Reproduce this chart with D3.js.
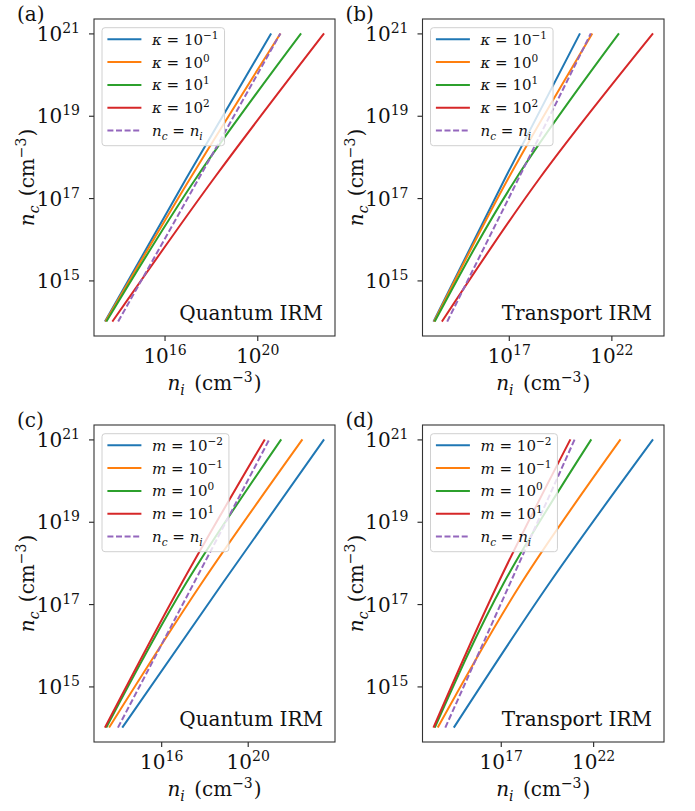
<!DOCTYPE html>
<html><head><meta charset="utf-8">
<script src="https://cdn.jsdelivr.net/npm/d3@7"></script>
<style>
body{margin:0;background:#fff;}
svg, svg text, svg tspan{font-family:"DejaVu Serif","Liberation Serif",serif !important;}
svg text{fill:#111;}
</style>
</head><body>
<svg id="chart" width="695" height="811" font-family="DejaVu Serif, Liberation Serif, serif"></svg>
<script>
// ---- data (log10 values) ----
const ncExp = [14, 17.5, 21];                 // log10 n_c at which n_i was read
const identityExp = [14, 21];                 // n_c = n_i line
const kappaExpLabels = ["\u22121", "0", "1", "2"];
const massExpLabels = ["\u22122", "\u22121", "0", "1"];
const yTickExps = [15, 17, 19, 21];
const xTickExpsQuantum = [16, 20];
const xTickExpsTransport = [17, 22];
// log10 n_i for each series at ncExp
const quantumKappaNi = [[13.43, 16.96, 20.60], [13.45, 17.13, 21.00], [13.49, 17.38, 21.89], [13.75, 18.16, 22.88]];
const transportKappaNi = [[13.33, 16.84, 20.47], [13.36, 17.00, 21.07], [13.39, 17.39, 22.37], [13.74, 18.53, 24.03]];
const quantumMassNi = [[14.20, 18.83, 23.53], [13.59, 17.86, 22.53], [13.46, 17.14, 21.55], [13.40, 16.94, 20.79]];
const transportMassNi = [[14.46, 19.62, 25.24], [13.59, 18.10, 23.48], [13.43, 17.15, 21.90], [13.36, 16.85, 20.77]];
const seriesColors = ["#1f77b4", "#ff7f0e", "#2ca02c", "#d62728"];
const identityColor = "#9467bd";

const svg = d3.select("#chart");
const FONT = "DejaVu Serif, Liberation Serif, serif";

function mathText(sel, segs, size) {
  let cur = 0;
  sel.attr("font-family", FONT);
  segs.forEach(s => {
    const p = s.p || "b";
    const target = p === "sup" ? -0.4 * size : p === "sub" ? 0.25 * size : 0;
    const ts = sel.append("tspan").attr("dy", target - cur).text(s.t);
    if (s.dx) ts.attr("dx", s.dx);
    cur = target;
    if (p !== "b") ts.attr("font-size", size * 0.7);
    if (s.i) ts.attr("font-style", "italic");
  });
}

const panels = [
  {tag: "(a)", left: 94, top: 19, w: 241, h: 317, xt: xTickExpsQuantum, ni: quantumKappaNi, sym: "\u03ba", labs: kappaExpLabels, name: "Quantum IRM"},
  {tag: "(b)", left: 422.5, top: 19, w: 241.5, h: 317, xt: xTickExpsTransport, ni: transportKappaNi, sym: "\u03ba", labs: kappaExpLabels, name: "Transport IRM"},
  {tag: "(c)", left: 94, top: 425, w: 241, h: 317, xt: xTickExpsQuantum, ni: quantumMassNi, sym: "m", labs: massExpLabels, name: "Quantum IRM"},
  {tag: "(d)", left: 422.5, top: 425, w: 241.5, h: 317, xt: xTickExpsTransport, ni: transportMassNi, sym: "m", labs: massExpLabels, name: "Transport IRM"}
];

const FS = 20, LFS = 15;

panels.forEach(P => {
  const g = svg.append("g").attr("transform", `translate(${P.left},${P.top})`);
  const allX = P.ni.flat().concat(identityExp);
  const xlo = d3.min(allX), xhi = d3.max(allX), xm = 0.05 * (xhi - xlo);
  const ylo = d3.min(ncExp), yhi = d3.max(ncExp), ym = 0.05 * (yhi - ylo);
  const x = d3.scaleLog().domain([10 ** (xlo - xm), 10 ** (xhi + xm)]).range([0, P.w]);
  const y = d3.scaleLog().domain([10 ** (ylo - ym), 10 ** (yhi + ym)]).range([P.h, 0]);

  // axes
  const ya = g.append("g").call(d3.axisLeft(y).tickValues(yTickExps.map(e => 10 ** e)).tickSize(5).tickPadding(9).tickFormat(""));
  ya.select(".domain").remove();
  ya.selectAll(".tick line").attr("stroke", "#222").attr("stroke-width", 1.1);
  ya.selectAll(".tick text").each(function(d) {
    const t = d3.select(this).attr("dy", null).attr("y", 7).attr("font-size", FS).attr("fill", "#111");
    mathText(t, [{t: "10"}, {t: String(Math.round(Math.log10(d))), p: "sup"}], FS);
  });
  const xa = g.append("g").attr("transform", `translate(0,${P.h})`)
    .call(d3.axisBottom(x).tickValues(P.xt.map(e => 10 ** e)).tickSize(5).tickFormat(""));
  xa.select(".domain").remove();
  xa.selectAll(".tick line").attr("stroke", "#222").attr("stroke-width", 1.1);
  xa.selectAll(".tick text").each(function(d) {
    const t = d3.select(this).attr("dy", null).attr("y", 27).attr("font-size", FS).attr("fill", "#111").attr("text-anchor", "middle");
    mathText(t, [{t: "10"}, {t: String(Math.round(Math.log10(d))), p: "sup"}], FS);
  });

  // lines
  const line = d3.line().x(d => x(10 ** d[0])).y(d => y(10 ** d[1])).curve(d3.curveNatural);
  P.ni.forEach((arr, i) => {
    g.append("path").datum(arr.map((v, k) => [v, ncExp[k]]))
      .attr("d", line).attr("fill", "none").attr("stroke", seriesColors[i]).attr("stroke-width", 2);
  });
  g.append("path").datum(identityExp.map(v => [v, v]))
    .attr("d", line).attr("fill", "none").attr("stroke", identityColor).attr("stroke-width", 2)
    .attr("stroke-dasharray", "6,2.6");

  // spines
  g.append("rect").attr("width", P.w).attr("height", P.h).attr("fill", "none").attr("stroke", "#333").attr("stroke-width", 1.1);

  // legend
  const lg = g.append("g").attr("transform", "translate(8,8.7)");
  const box = lg.append("rect").attr("rx", 3).attr("fill", "#fff").attr("fill-opacity", 0.8)
    .attr("stroke", "#d0d0d0").attr("stroke-width", 1);
  const rows = P.labs.map((lab, i) => ({c: seriesColors[i], dash: null,
    segs: [{t: P.sym, i: true}, {t: " = 10"}, {t: lab, p: "sup"}]}));
  rows.push({c: identityColor, dash: "6,2.6",
    segs: [{t: "n", i: true}, {t: "c", i: true, p: "sub"}, {t: " = "}, {t: "n", i: true}, {t: "i", i: true, p: "sub"}]});
  let maxW = 0;
  rows.forEach((r, i) => {
    const ry = 11.6 + i * 22.8;
    lg.append("line").attr("x1", 5.4).attr("x2", 39.4).attr("y1", ry).attr("y2", ry)
      .attr("stroke", r.c).attr("stroke-width", 2).attr("stroke-dasharray", r.dash);
    const t = lg.append("text").attr("x", 50).attr("y", ry + 5.5).attr("font-size", LFS);
    mathText(t, r.segs, LFS);
    maxW = Math.max(maxW, t.node().getComputedTextLength());
  });
  box.attr("width", 50 + maxW + 6).attr("height", 118);

  // model name
  g.append("text").attr("x", P.w - 12).attr("y", P.h - 16).attr("text-anchor", "end")
    .attr("font-size", FS).attr("font-family", FONT).text(P.name);

  // axis labels
  const yl = g.append("text").attr("transform", `translate(-60,${P.h / 2}) rotate(-90)`)
    .attr("text-anchor", "middle").attr("font-size", FS);
  mathText(yl, [{t: "n", i: true}, {t: "c", i: true, p: "sub"}, {t: " (cm", dx: 3}, {t: "\u22123", p: "sup"}, {t: ")", dx: 1}], FS);
  const xl = g.append("text").attr("x", P.w / 2).attr("y", P.h + 54)
    .attr("text-anchor", "middle").attr("font-size", FS);
  mathText(xl, [{t: "n", i: true}, {t: "i", i: true, p: "sub"}, {t: " (cm", dx: 3}, {t: "\u22123", p: "sup"}, {t: ")", dx: 1}], FS);

  // panel tag
  g.append("text").attr("x", -77).attr("y", 2).attr("font-size", FS).attr("font-family", FONT).text(P.tag);
});
</script>
</body></html>
